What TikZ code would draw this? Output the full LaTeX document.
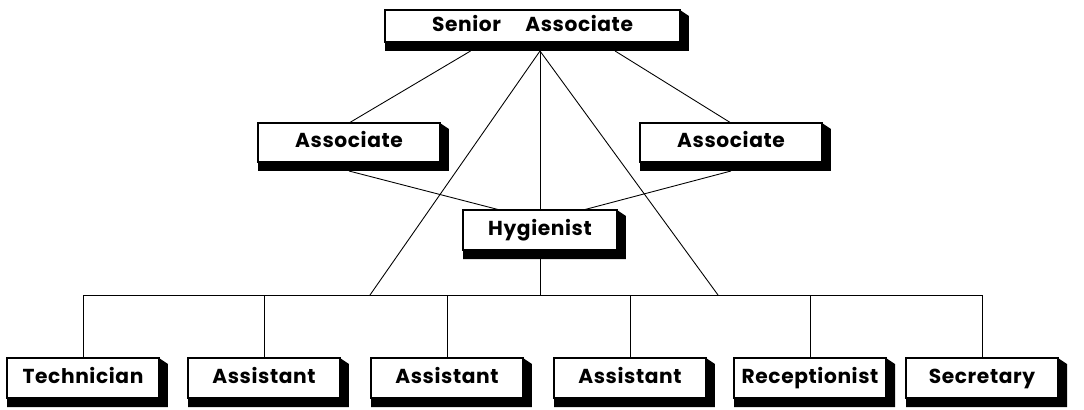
\documentclass[tikz,border=0pt]{standalone}
\usepackage{fontspec}
\newfontfamily\orgfont{Poppins}[LetterSpace=3]
\usetikzlibrary{calc}

\tikzset{
  orgbox/.style={draw, line width=1.6pt, fill=white, inner sep=0pt, outer sep=0pt,
    text height=8.5pt, text depth=2.5pt,
    font=\orgfont\bfseries\fontsize{11.5}{13}\selectfont},
  staffbox/.style={orgbox, minimum width=3.04cm, minimum height=0.8cm},
  link/.style={line width=0.5pt},
}

\begin{document}
\begin{tikzpicture}[x=0.02cm, y=-0.02cm]
    \useasboundingbox (0,0) rectangle (1084,409);

    % Top level
    \node[orgbox, minimum width=5.9cm, minimum height=0.64cm] (senior) at (532.5,26) {Senior\hspace{1.2em}Associate};

    % Associates
    \node[orgbox, minimum width=3.64cm, minimum height=0.78cm] (assocL) at (349,142.5) {Associate};
    \node[orgbox, minimum width=3.64cm, minimum height=0.78cm] (assocR) at (731,142.5) {Associate};

    % Hygienist
    \node[orgbox, minimum width=3.08cm, minimum height=0.8cm] (hyg) at (540,230) {Hygienist};

    % Staff row
    \foreach \x/\name/\txt in {83/tech/Technician, 264/asstA/Assistant, 447/asstB/Assistant,
                               630/asstC/Assistant, 810/recep/Receptionist, 982/secr/Secretary}
        \node[staffbox] (\name) at (\x,378) {\txt};

    % Shadows
    \foreach \n in {senior,assocL,assocR,hyg,tech,asstA,asstB,asstC,recep,secr}
        \fill (\n.north east) -- ++(9,6) -- ($(\n.south east)+(9,9)$)
              -- ($(\n.south west)+(0,9)$) -- (\n.south west) -- (\n.south east) -- cycle;

    % Bus line
    \coordinate (busy) at (0,295);
    \coordinate (sbot) at ($(senior.south)+(0,9)$);
    \coordinate (busA) at (370,295);
    \coordinate (busB) at (718,295);
    \draw[link] (tech.north |- busy) -- (secr.north |- busy);
    \foreach \n in {tech,asstA,asstB,asstC,recep,secr}
        \draw[link] (\n.north |- busy) -- (\n.north);

    % Senior Associate links
    \draw[link] ($(senior.south west)!0.29!(senior.south east)+(0,9)$) -- (assocL.north);
    \draw[link] ($(senior.south west)!0.78!(senior.south east)+(0,9)$) -- (assocR.north);
    \draw[link] (hyg.north |- sbot) -- (hyg.north);
    \draw[link] (hyg.north |- sbot) -- (busA);
    \draw[link] (hyg.north |- sbot) -- (busB);

    % Associate links
    \draw[link] ($(assocL.south)+(0,9)$) -- ($(hyg.north west)!0.24!(hyg.north east)$);
    \draw[link] ($(assocR.south)+(0,9)$) -- ($(hyg.north west)!0.78!(hyg.north east)$);
    \draw[link] ($(hyg.south)+(0,9)$) -- (hyg.south |- busy);
\end{tikzpicture}
\end{document}
